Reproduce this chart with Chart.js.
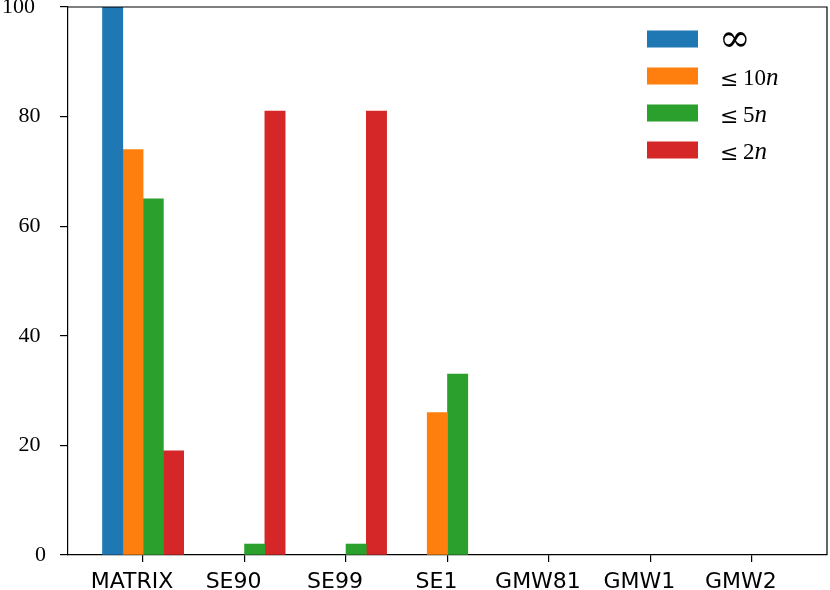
<!DOCTYPE html>
<html>
<head>
<meta charset="utf-8">
<script src="https://cdn.jsdelivr.net/npm/chart.js@4.4.0/dist/chart.umd.min.js"></script>
<style>
  html, body { margin: 0; padding: 0; background: #fff; }
  #wrap { width: 830px; height: 590px; }
</style>
</head>
<body>
<div id="wrap"><canvas id="chart"></canvas></div>
<script>
// data
const categories = ['MATRIX', 'SE90', 'SE99', 'SE1', 'GMW81', 'GMW1', 'GMW2'];
const seriesNames = ['∞', '≤ 10n', '≤ 5n', '≤ 2n'];
const unlimited = [100, 0, 0, 0, 0, 0, 0];
const within10n = [74, 0, 0, 26, 0, 0, 0];
const within5n  = [65, 2, 2, 33, 0, 0, 0];
const within2n  = [19, 81, 81, 0, 0, 0, 0];
const yTicks = [0, 20, 40, 60, 80, 100];

const seriesValues = [unlimited, within10n, within5n, within2n];
const colors = ['#1f77b4', '#ff7f0e', '#2ca02c', '#d62728'];
const slot = [-0.3, -0.1, 0.1, 0.3];   // bar slot inside each group (bar width 0.2)

const datasets = seriesValues.map((vals, k) => ({
  label: seriesNames[k],
  data: vals.map((v, i) => ({ x: Math.round((i + slot[k]) * 10) / 10, y: v })),
  backgroundColor: c => (c.raw && c.raw.y === 0) ? 'rgba(0,0,0,0)' : colors[k],
  legendColor: colors[k],
  borderWidth: 0,
  grouped: false,
  barPercentage: 1,
  categoryPercentage: 1
}));

// top/right spines and the legend inside the plot
const frame = {
  id: 'frame',
  afterDraw(chart) {
    const { ctx, chartArea: a } = chart;
    ctx.save();
    ctx.strokeStyle = '#000';
    ctx.lineWidth = 1.2;
    ctx.beginPath();
    ctx.moveTo(a.left, a.top);
    ctx.lineTo(a.right, a.top);
    ctx.lineTo(a.right, a.bottom);
    ctx.stroke();

    let y = a.top + 32;
    const x = a.right - 180;
    ctx.textBaseline = 'alphabetic';
    chart.data.datasets.forEach(ds => {
      ctx.fillStyle = ds.legendColor;
      ctx.fillRect(x, y - 8.5, 51, 17);
      ctx.fillStyle = '#000';
      const tx = x + 73;
      const base = y + 9;
      if (ds.label === '∞') {
        ctx.font = '38px "DejaVu Serif"';
        ctx.fillText('∞', tx - 1, y + 12);
      } else {
        const num = ds.label.slice(2, -1);
        ctx.font = '22px "DejaVu Serif"';
        ctx.fillText('≤', tx, base + 1);
        ctx.font = '23px "Liberation Serif"';
        ctx.fillText(num, tx + 23, base);
        const w = ctx.measureText(num).width;
        ctx.font = 'italic 25px "Liberation Serif"';
        ctx.fillText('n', tx + 23 + w, base);
      }
      y += 37;
    });
    ctx.restore();
  }
};

new Chart(document.getElementById('chart'), {
  type: 'bar',
  data: { datasets },
  plugins: [frame],
  options: {
    responsive: true,
    maintainAspectRatio: false,
    animation: false,
    layout: { padding: { top: 7, right: 3, left: 0, bottom: 0 } },
    plugins: { legend: { display: false }, tooltip: { enabled: false } },
    scales: {
      x: {
        type: 'linear',
        offset: false,
        min: -0.74,
        max: 6.74,
        afterBuildTicks: s => { s.ticks = categories.map((c, i) => ({ value: i })); },
        afterFit: s => { s.height = 35; s.paddingLeft = 0; s.paddingRight = 0; },
        ticks: {
          callback: (v, i) => categories[i],
          autoSkip: false,
          maxRotation: 0,
          labelOffset: -11,
          color: '#000',
          padding: 7,
          font: { family: 'DejaVu Sans', size: 22 }
        },
        grid: { offset: false, drawOnChartArea: false, tickLength: 7, color: '#000', lineWidth: 1.2 },
        border: { color: '#000', width: 1.2 }
      },
      y: {
        min: 0,
        max: 100,
        afterBuildTicks: s => { s.ticks = yTicks.map(v => ({ value: v })); },
        afterFit: s => { s.width = 68; s.paddingTop = 0; s.paddingBottom = 0; },
        ticks: {
          callback: v => v + ' '.repeat(String(v).length - 1),
          color: '#000',
          padding: 14,
          font: { family: 'Liberation Serif', size: 22 }
        },
        grid: { drawOnChartArea: false, tickLength: 8, color: '#000', lineWidth: 1.2 },
        border: { color: '#000', width: 1.2 }
      }
    }
  }
});
</script>
</body>
</html>
